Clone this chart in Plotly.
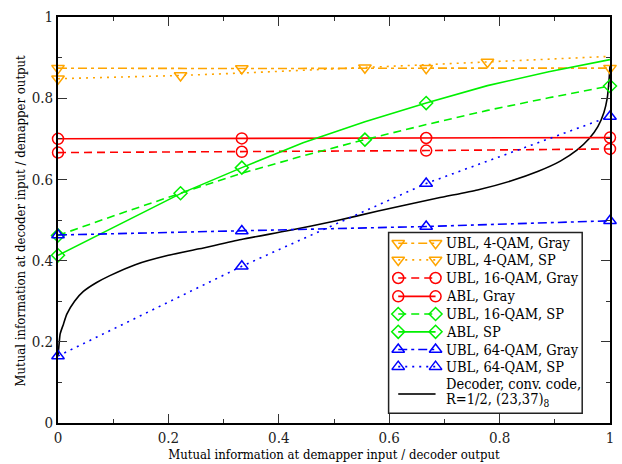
import plotly.graph_objects as go

# ---------------- data ----------------
x4 = [0.0, 0.333, 0.667, 1.0]
x9 = [0.0, 0.111, 0.222, 0.333, 0.444, 0.556, 0.667, 0.778, 0.889, 1.0]

ubl4_gray_y = [0.874, 0.873, 0.874, 0.874]
ubl4_sp_y = [0.848, 0.852, 0.856, 0.862, 0.869, 0.875, 0.882, 0.889, 0.896, 0.903]
ubl4_sp_mk = [0, 2, 5, 7]

ubl16_gray_y = [0.666, 0.668, 0.671, 0.675]
abl_gray_y = [0.700, 0.701, 0.702, 0.703]

ubl16_sp_y = [0.462, 0.515, 0.566, 0.615, 0.658, 0.698, 0.735, 0.770, 0.801, 0.830]
ubl16_sp_mk = [0, 2, 5, 9]
abl_sp_y = [0.413, 0.490, 0.565, 0.629, 0.690, 0.742, 0.788, 0.831, 0.865, 0.895]
abl_sp_mk = [0, 3, 6]

ubl64_gray_y = [0.463, 0.473, 0.484, 0.498]
ubl64_sp_y = [0.165, 0.386, 0.590, 0.755]

dec_x = [0.0, 0.002, 0.004, 0.010, 0.016, 0.030, 0.046, 0.070, 0.094, 0.140, 0.200,
         0.256, 0.332, 0.418, 0.500, 0.580, 0.688, 0.760, 0.820, 0.870, 0.910,
         0.940, 0.962, 0.978, 0.989, 0.995, 0.998, 1.0]
dec_y = [0.165, 0.195, 0.220, 0.244, 0.268, 0.300, 0.324, 0.346, 0.363, 0.390, 0.413,
         0.429, 0.452, 0.474, 0.497, 0.522, 0.554, 0.574, 0.596, 0.620, 0.645,
         0.672, 0.700, 0.730, 0.765, 0.800, 0.840, 0.880]

labels = ["UBL, 4-QAM, Gray", "UBL, 4-QAM, SP", "UBL, 16-QAM, Gray", "ABL, Gray",
          "UBL, 16-QAM, SP", "ABL, SP", "UBL, 64-QAM, Gray", "UBL, 64-QAM, SP"]
dec_label_1 = "Decoder, conv. code,"
dec_label_2 = "R=1/2, (23,37)<sub>8</sub>"
x_title = "Mutual information at demapper input / decoder output"
y_title = "Mutual information at decoder input / demapper output"

ORANGE = "#FFA500"
RED = "#FF0000"
GREEN = "#00F000"
BLUE = "#0000FF"
DASH = "8px,5px"
DASHDOT = "9px,4px,3px,4px"
DOT = "2px,5px"

styles = [
    (ORANGE, DASHDOT, "triangle-down-open"),
    (ORANGE, DOT, "triangle-down-open"),
    (RED, DASH, "circle-open"),
    (RED, "solid", "circle-open"),
    (GREEN, DASH, "diamond-open"),
    (GREEN, "solid", "diamond-open"),
    (BLUE, DASHDOT, "triangle-up-open"),
    (BLUE, DOT, "triangle-up-open"),
]
msize = {"triangle-down-open": 11, "triangle-up-open": 11, "circle-open": 11, "diamond-open": 10}

series = [
    (x4, ubl4_gray_y, [0, 1, 2, 3]),
    (x9, ubl4_sp_y, ubl4_sp_mk),
    (x4, ubl16_gray_y, [0, 1, 2, 3]),
    (x4, abl_gray_y, [0, 1, 2, 3]),
    (x9, ubl16_sp_y, ubl16_sp_mk),
    (x9, abl_sp_y, abl_sp_mk),
    (x4, ubl64_gray_y, [0, 1, 2, 3]),
    (x4, ubl64_sp_y, [0, 1, 2, 3]),
]

FONT = "DejaVu Serif Condensed, DejaVu Serif, serif"

fig = go.Figure()

# decoder curve
fig.add_trace(go.Scatter(x=dec_x, y=dec_y, mode="lines",
                         line=dict(color="black", width=1.6, shape="spline", smoothing=0.6),
                         showlegend=False, cliponaxis=False))

for (xs, ys, mk), (col, dash, sym) in zip(series, styles):
    fig.add_trace(go.Scatter(x=xs, y=ys, mode="lines", line=dict(color=col, width=1.6, dash=dash),
                             showlegend=False, cliponaxis=False))
    fig.add_trace(go.Scatter(x=[xs[i] for i in mk], y=[ys[i] for i in mk], mode="markers",
                             marker=dict(symbol=sym, size=msize[sym], color=col, line=dict(width=1.5, color=col)),
                             showlegend=False, cliponaxis=False))

# ---------------- custom legend (pixel-like overlay axes) ----------------
box = [333, 223, 528, 410]
fig.add_shape(type="rect", xref="x2", yref="y2", x0=box[0], y0=box[1], x1=box[2], y1=box[3],
              line=dict(color="#222222", width=1.5), fillcolor="white", layer="below")
row_y = [234, 251.3, 270, 289, 307.3, 325.7, 344, 361.7]
sx0, sx1, tx = 342.7, 380.3, 388.5
for ry, lab, (col, dash, sym) in zip(row_y, labels, styles):
    fig.add_trace(go.Scatter(x=[sx0, sx1], y=[ry, ry], xaxis="x2", yaxis="y2", mode="lines+markers",
                             line=dict(color=col, width=1.6, dash=dash),
                             marker=dict(symbol=sym, size=msize[sym], color=col, line=dict(width=1.5, color=col)),
                             showlegend=False, cliponaxis=False))
    fig.add_annotation(x=tx, y=ry, xref="x2", yref="y2", text=lab, showarrow=False,
                       xanchor="left", yanchor="middle", font=dict(family=FONT, size=14.5, color="black"))
fig.add_trace(go.Scatter(x=[sx0, sx1], y=[390, 390], xaxis="x2", yaxis="y2", mode="lines",
                         line=dict(color="#333333", width=2), showlegend=False, cliponaxis=False))
fig.add_annotation(x=tx, y=380, xref="x2", yref="y2", text=dec_label_1, showarrow=False,
                   xanchor="left", yanchor="middle", font=dict(family=FONT, size=14.5, color="black"))
fig.add_annotation(x=tx, y=396, xref="x2", yref="y2", text=dec_label_2, showarrow=False,
                   xanchor="left", yanchor="middle", font=dict(family=FONT, size=14.5, color="black"))

# y-axis title as rotated annotation (paper coordinates)
fig.add_annotation(x=-0.068, y=0.5, xref="paper", yref="paper", text=y_title, showarrow=False,
                   textangle=-90, xanchor="center", yanchor="middle",
                   font=dict(family=FONT, size=13, color="black"))

axis_common = dict(range=[0, 1], dtick=0.2, ticks="inside", ticklen=9, tickwidth=1.2, tickcolor="#333333",
                   showline=True, linecolor="black", linewidth=1.6, mirror="ticks",
                   showgrid=False, zeroline=False,
                   minor=dict(ticks="inside", ticklen=4, dtick=0.1, tickcolor="#333333", tickwidth=1.2),
                   tickfont=dict(family=FONT, size=15, color="#222222"),
                   title_font=dict(family=FONT, size=13, color="black"))

fig.update_layout(
    width=622, height=464,
    margin=dict(l=58, r=8, t=9, b=35),
    plot_bgcolor="white", paper_bgcolor="white",
    showlegend=False,
    font=dict(family=FONT),
    xaxis=dict(**axis_common, title=dict(text=x_title, standoff=0)),
    yaxis=dict(**axis_common),
    xaxis2=dict(overlaying="x", anchor="y2", range=[0, 556], visible=False),
    yaxis2=dict(overlaying="y", anchor="x2", range=[420, 0], visible=False),
)

fig.write_html("out.html")
